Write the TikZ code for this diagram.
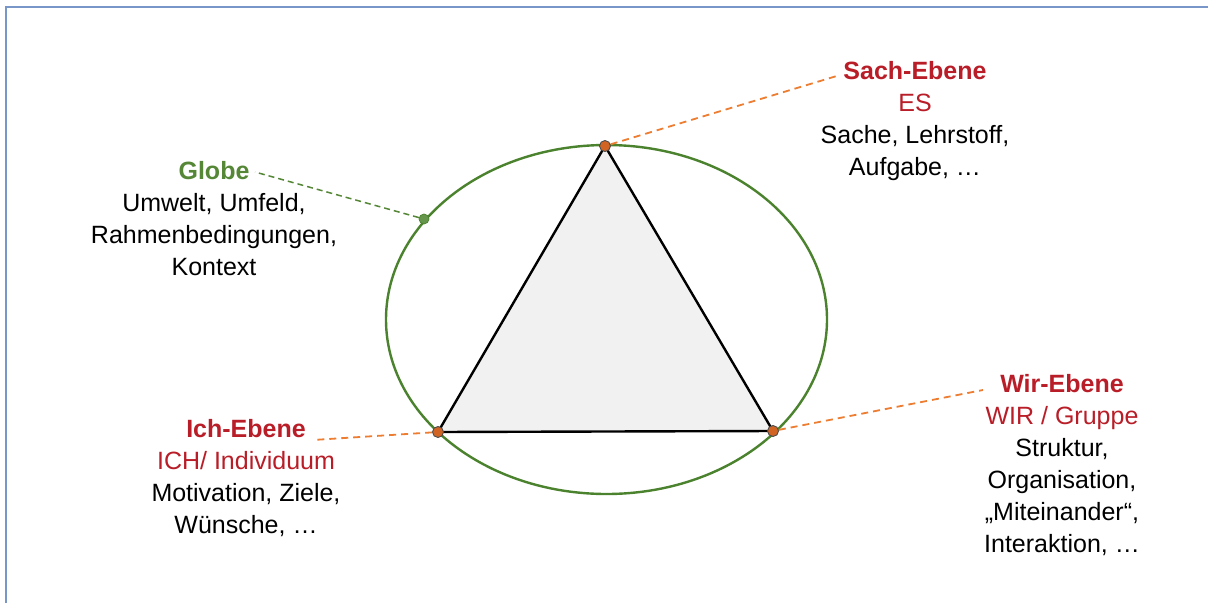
\documentclass[tikz,border=0pt]{standalone}
\usepackage{fontspec}
\setmainfont{Liberation Sans}
\definecolor{frameblue}{RGB}{120,150,200}
\definecolor{ebred}{RGB}{185,30,40}
\definecolor{globegreen}{RGB}{85,135,55}
\definecolor{ellgreen}{RGB}{75,130,45}
\definecolor{dashorange}{RGB}{237,125,49}
\definecolor{dotorange}{RGB}{210,100,35}
\tikzset{
  lbl/.style={align=center, font=\fontsize{25}{32}\selectfont, inner sep=0pt},
  dotnode/.style={circle, fill=dotorange, draw=black!70, line width=0.9pt, minimum size=11pt, inner sep=0pt},
  gdot/.style={circle, fill=ellgreen!85!white, draw=ellgreen, line width=0.7pt, minimum size=10pt, inner sep=0pt},
  odash/.style={dashorange, line width=1.8pt, dash pattern=on 7pt off 5pt},
  gdash/.style={globegreen, line width=1.5pt, dash pattern=on 6pt off 4pt},
}
\begin{document}
\begin{tikzpicture}[x=1pt,y=-1pt]
\useasboundingbox (0,0) rectangle (1208,603);
\fill[white] (0,0) rectangle (1208,603);
% frame
\draw[frameblue, line width=2pt] (6,603) -- (6,7) -- (1208,7);
% ellipse
\draw[ellgreen, line width=2.4pt] (606.5,319.5) ellipse [x radius=220.5, y radius=174.5];
% triangle
\coordinate (T) at (605,146);
\coordinate (L) at (438,432);
\coordinate (R) at (773,431);
\filldraw[fill=gray!11, draw=black, line width=2.4pt, line join=round] (T) -- (L) -- (R) -- cycle;
% labels
\node[lbl] (globe) at (214,219) {\textcolor{globegreen}{\bfseries Globe}\\Umwelt, Umfeld,\\Rahmenbedingungen,\\Kontext};
\node[lbl] (sach) at (915,121) {\textcolor{ebred}{\bfseries Sach-Ebene}\\\textcolor{ebred}{ES}\\Sache, Lehrstoff,\\Aufgabe, \dots};
\node[lbl] (ich) at (246,478) {\textcolor{ebred}{\bfseries Ich-Ebene}\\\textcolor{ebred}{ICH/ Individuum}\\Motivation, Ziele,\\Wünsche, \dots};
\node[lbl] (wir) at (1062,465) {\textcolor{ebred}{\bfseries Wir-Ebene}\\\textcolor{ebred}{WIR / Gruppe}\\Struktur,\\Organisation,\\„Miteinander“,\\Interaktion, \dots};
% connector ends
\coordinate (gend) at (255,172);
\coordinate (send) at (840,75);
\coordinate (iend) at (313,440);
\coordinate (wend) at (983,390);
% dots
\node[gdot] (gdotn) at (424,219) {};
\node[dotnode] (tdot) at (T) {};
\node[dotnode] (ldot) at (L) {};
\node[dotnode] (rdot) at (R) {};
% connectors
\draw[gdash] (gdotn) -- (gend);
\draw[odash] (tdot) -- (send);
\draw[odash] (ldot) -- (iend);
\draw[odash] (rdot) -- (wend);
\end{tikzpicture}
\end{document}
